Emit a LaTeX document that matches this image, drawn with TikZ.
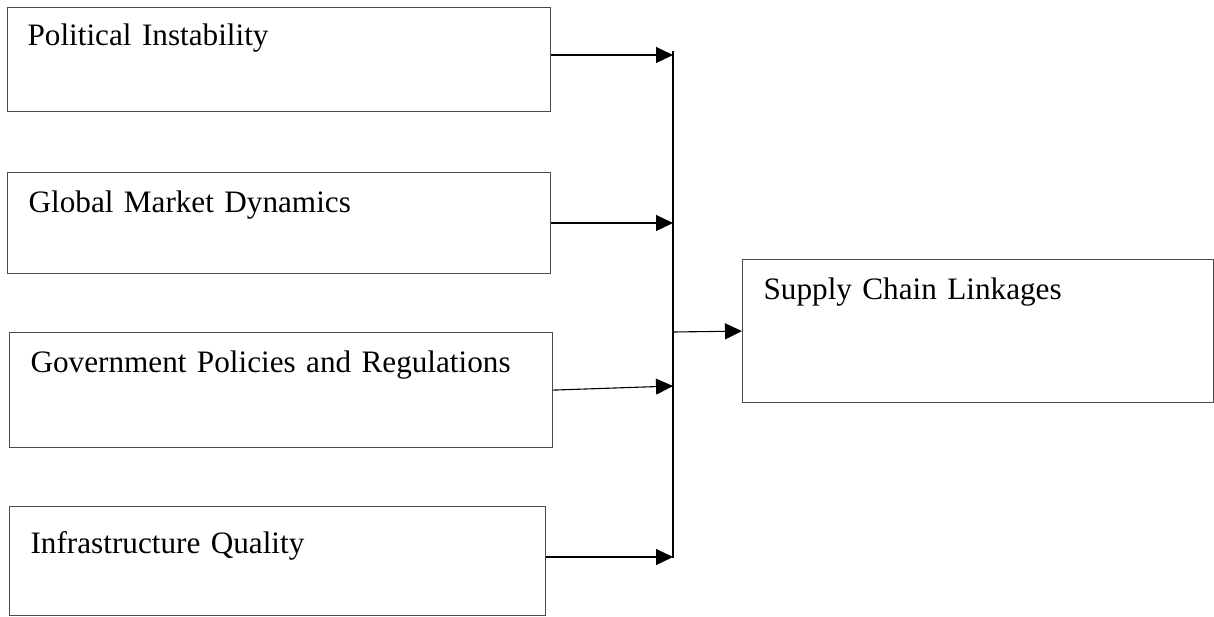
\documentclass[tikz,border=0pt]{standalone}
\usepackage{fontspec}
\setmainfont{Liberation Serif}
\usetikzlibrary{arrows.meta}
\usetikzlibrary{positioning}

\begin{document}
\begin{tikzpicture}[x=0.5pt,y=-0.5pt,box/.style={draw=black!70,line width=0.6pt,anchor=north west,inner xsep=10.5pt,inner ysep=0pt,align=left,font=\fontsize{15.6pt}{18pt}\selectfont},line width=0.55pt,->,>={Triangle[length=8.5pt,width=8pt]}]
		\useasboundingbox (0,0) rectangle (1214,616);

		\node[box,inner xsep=10pt,text width=251.5pt,text height=19pt,text depth=33pt] (f1) at (7,7) {Political Instability};
		\node[box,text width=250.5pt,text height=20pt,text depth=30.5pt] (f2) at (7,172) {Global Market Dynamics};
		\node[box,text width=250.5pt,text height=20pt,text depth=37.5pt] (f3) at (9,332) {Government Policies and Regulations};
		\node[box,text width=247pt,text height=23.5pt,text depth=31pt] (f4) at (9,506) {Infrastructure Quality};

		\node[box,text width=214.5pt,text height=20pt,text depth=51.5pt] (s0) at (742,259) {Supply Chain Linkages};

		\coordinate (bustop) at (673,51);
		\coordinate (busbot) at (673,558);
		\coordinate (j1) at (673,55);
		\coordinate (j2) at (673,223);
		\coordinate (j3) at (673,386);
		\coordinate (j4) at (673,557);
		\coordinate (jm) at (673,332);

		\draw[-] (bustop) -- (busbot);
		\draw[->] (f1.east |- j1) -- (j1);
		\draw[->] (f2.east |- j2) -- (j2);
		\draw[->] (f3.east) -- (j3);
		\draw[->] (f4.east |- j4) -- (j4);
		\draw[->] (jm) -- (s0.west);

\end{tikzpicture}
\end{document}
